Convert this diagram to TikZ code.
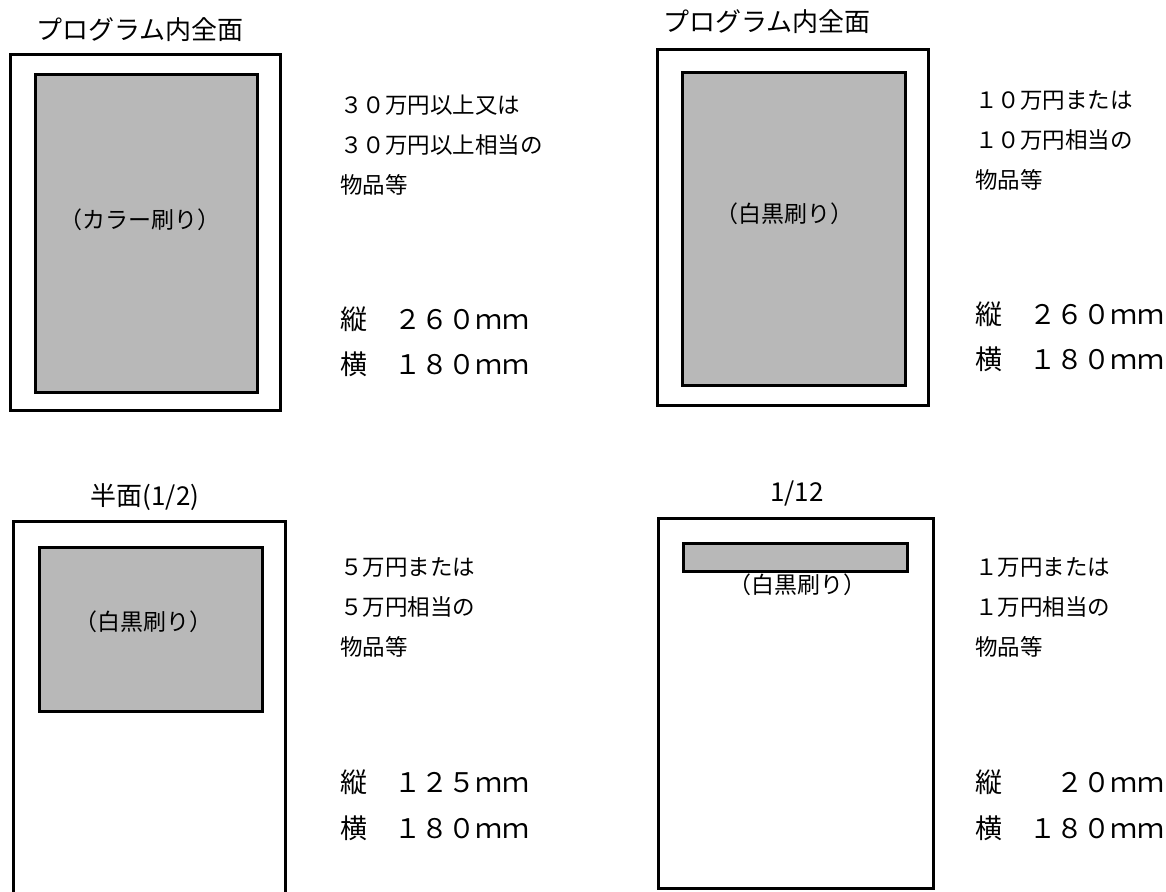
\documentclass[tikz,border=0pt]{standalone}
\usepackage{fontspec}
\setmainfont{Noto Sans CJK JP}
\definecolor{stip}{gray}{0.72}
\begin{document}
\begin{tikzpicture}[x=1pt,y=-1pt,
  outer/.style={draw=black,line width=3pt},
  inner/.style={draw=black,line width=3pt,fill=stip},
  title/.style={inner sep=0pt,font=\fontsize{26}{26}\selectfont},
  body/.style={inner sep=0pt,anchor=west,font=\fontsize{22.5}{22.5}\selectfont},
  dims/.style={inner sep=0pt,anchor=west,font=\fontsize{27}{27}\selectfont},
  lbl/.style={inner sep=0pt,font=\fontsize{23}{23}\selectfont}]
\useasboundingbox[fill=white] (0,0) rectangle (1166,891);

% Panel 1
\node[title] (t1) at (140,30) {プログラム内全面};
\draw[outer] (10,55) rectangle (280,410);
\draw[inner] (35,74) rectangle (257,392);
\node[lbl] (l1) at (140,220) {（カラー刷り）};
\node[body] (a1) at (340,105) {３０万円以上又は};
\node[body] (a2) at (340,145) {３０万円以上相当の};
\node[body] (a3) at (340,185) {物品等};
\node[dims] (a4) at (340,319) {縦　２６０ｍｍ};
\node[dims] (a5) at (340,364) {横　１８０ｍｍ};

% Panel 2
\node[title] (t2) at (767,22) {プログラム内全面};
\draw[outer] (657,50) rectangle (928,405);
\draw[inner] (682,72) rectangle (905,385);
\node[lbl] (l2) at (784,214) {（白黒刷り）};
\node[body] (b1) at (975,100) {１０万円または};
\node[body] (b2) at (975,140) {１０万円相当の};
\node[body] (b3) at (975,180) {物品等};
\node[dims] (b4) at (975,314) {縦　２６０ｍｍ};
\node[dims] (b5) at (975,359) {横　１８０ｍｍ};

% Panel 3
\node[title] (t3) at (145,497) {半面(1/2)};
\draw[outer] (13,900) -- (13,521) -- (285,521) -- (285,900);
\draw[inner] (39,547) rectangle (262,711);
\node[lbl] (l3) at (143,622) {（白黒刷り）};
\node[body] (c1) at (340,567) {５万円または};
\node[body] (c2) at (340,607) {５万円相当の};
\node[body] (c3) at (340,647) {物品等};
\node[dims] (c4) at (340,782) {縦　１２５ｍｍ};
\node[dims] (c5) at (340,828) {横　１８０ｍｍ};

% Panel 4
\node[title] (t4) at (797,493) {1/12};
\draw[outer] (658,518) rectangle (933,888);
\draw[inner] (683,543) rectangle (907,571);
\node[lbl] (l4) at (797,585) {（白黒刷り）};
\node[body] (d1) at (975,567) {１万円または};
\node[body] (d2) at (975,607) {１万円相当の};
\node[body] (d3) at (975,647) {物品等};
\node[dims] (d4) at (975,782) {縦　　２０ｍｍ};
\node[dims] (d5) at (975,828) {横　１８０ｍｍ};
\end{tikzpicture}
\end{document}
